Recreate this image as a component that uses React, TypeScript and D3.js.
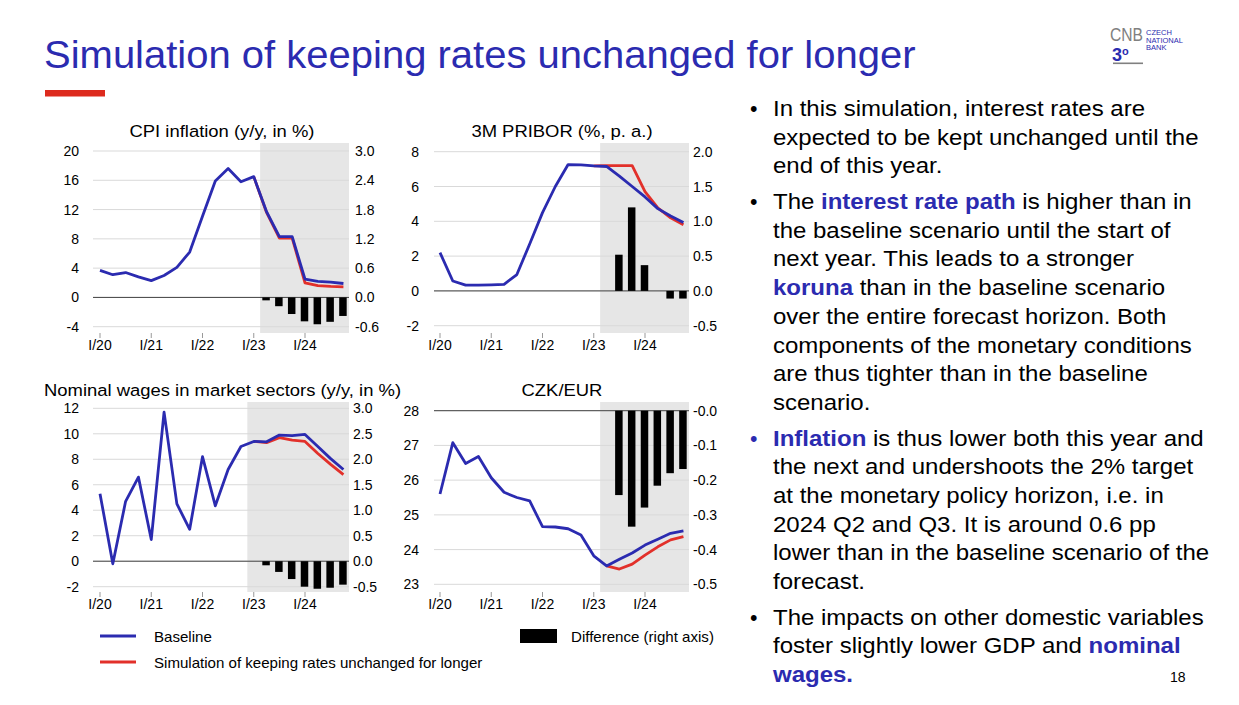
import React from 'react';
import * as d3 from 'd3';

// ---------- DATA ----------
const yearTickIdx = [0, 4, 8, 12, 16];
const yearLabels = ['I/20', 'I/21', 'I/22', 'I/23', 'I/24'];

const cpiBaseline = [3.7, 3.1, 3.4, 2.8, 2.3, 3.0, 4.1, 6.2, 11.1, 15.9, 17.6, 15.8, 16.5, 11.7, 8.3, 8.3, 2.5, 2.2, 2.1, 1.9];
const cpiSimulation = [null, null, null, null, null, null, null, null, null, null, null, null, 16.5, 11.6, 8.1, 8.1, 2.0, 1.6, 1.5, 1.45];
const cpiDifference = [null, null, null, null, null, null, null, null, null, null, null, null, null, -0.06, -0.18, -0.34, -0.49, -0.55, -0.5, -0.38];
const cpiLeftTicks = [20, 16, 12, 8, 4, 0, -4];
const cpiRightTicks = ['3.0', '2.4', '1.8', '1.2', '0.6', '0.0', '-0.6'];

const priborBaseline = [2.2, 0.57, 0.33, 0.33, 0.35, 0.38, 0.94, 2.7, 4.5, 6.0, 7.26, 7.24, 7.18, 7.15, 6.6, 6.0, 5.4, 4.73, 4.3, 3.93];
const priborSimulation = [null, null, null, null, null, null, null, null, null, null, null, null, 7.18, 7.2, 7.2, 7.2, 5.7, 4.77, 4.2, 3.8];
const priborDifference = [null, null, null, null, null, null, null, null, null, null, null, null, null, null, 0.52, 1.2, 0.37, 0, -0.11, -0.11];
const priborLeftTicks = [8, 6, 4, 2, 0, -2];
const priborRightTicks = ['2.0', '1.5', '1.0', '0.5', '0.0', '-0.5'];

const wagesBaseline = [5.3, -0.2, 4.7, 6.6, 1.7, 11.7, 4.5, 2.5, 8.2, 4.35, 7.2, 9.0, 9.4, 9.37, 9.9, 9.85, 9.95, 9.0, 8.05, 7.2];
const wagesSimulation = [null, null, null, null, null, null, null, null, null, null, null, null, 9.4, 9.3, 9.7, 9.5, 9.4, 8.45, 7.6, 6.8];
const wagesDifference = [null, null, null, null, null, null, null, null, null, null, null, null, null, -0.08, -0.21, -0.35, -0.5, -0.54, -0.52, -0.46];
const wagesLeftTicks = [12, 10, 8, 6, 4, 2, 0, -2];
const wagesRightTicks = ['3.0', '2.5', '2.0', '1.5', '1.0', '0.5', '0.0', '-0.5'];

const czkBaseline = [25.6, 27.08, 26.48, 26.68, 26.07, 25.65, 25.5, 25.4, 24.66, 24.65, 24.6, 24.42, 23.82, 23.53, 23.72, 23.9, 24.13, 24.3, 24.47, 24.54];
const czkSimulation = [null, null, null, null, null, null, null, null, null, null, null, null, null, 23.53, 23.44, 23.58, 23.84, 24.08, 24.28, 24.37];
const czkDifference = [null, null, null, null, null, null, null, null, null, null, null, null, null, null, -0.243, -0.334, -0.279, -0.216, -0.18, -0.168];
const czkLeftTicks = [28, 27, 26, 25, 24, 23];
const czkRightTicks = ['-0.0', '-0.1', '-0.2', '-0.3', '-0.4', '-0.5'];

const legendLabels = ['Baseline', 'Simulation of keeping rates unchanged for longer', 'Difference (right axis)'];

// ---------- STYLE ----------
const BLUE = '#2b2bb0';
const RED = '#e2302a';
const TITLE_BLUE = '#2b2bb0';
const FONT = "'Liberation Sans', Arial, sans-serif";

type PanelCfg = {
  title: string;
  titleX: number;
  titleY: number;
  titleAnchor: 'start' | 'middle';
  gridX0: number;
  gridX1: number;
  xFirst: number;
  xLast: number;
  yTop: number;
  yBottom: number;
  shadeTop: number;
  shadeBottom: number;
  shadeStart: number;
  leftDomain: [number, number];
  rightDomain: [number, number];
  leftTicks: number[];
  rightTicks: string[];
  leftLabelX: number;
  rightLabelX: number;
  baseline: number[];
  simulation: (number | null)[];
  difference: (number | null)[];
};

function Panel({ c }: { c: PanelCfg }) {
  const x = d3.scaleLinear().domain([0, 16]).range([c.xFirst, c.xLast]);
  const yL = d3.scaleLinear().domain(c.leftDomain).range([c.yBottom, c.yTop]);
  const yR = d3.scaleLinear().domain(c.rightDomain).range([c.yBottom, c.yTop]);
  const line = d3
    .line<number | null>()
    .defined((d) => d != null)
    .x((_, i) => x(i))
    .y((d) => yL(d as number));
  const barW = 7.5;
  const zeroY = yR(0);
  return (
    <g>
      <text
        transform={`translate(${c.titleX},${c.titleY}) scale(1.085,1)`}
        textAnchor={c.titleAnchor}
        fontSize={17}
        fill="#000"
      >
        {c.title}
      </text>
      <rect x={x(c.shadeStart)} y={c.shadeTop} width={c.gridX1 - x(c.shadeStart)} height={c.shadeBottom - c.shadeTop} fill="#e6e6e6" />
      {c.leftTicks.map((t) => (
        <line key={'g' + t} x1={c.gridX0} x2={c.gridX1} y1={yL(t)} y2={yL(t)} stroke="#d9d9d9" strokeWidth={1} />
      ))}
      {c.leftTicks.map((t) => (
        <text key={'l' + t} x={c.leftLabelX} y={yL(t)} dy="0.36em" textAnchor="end" fontSize={14}>
          {t}
        </text>
      ))}
      {c.rightTicks.map((t, i) => {
        const v = c.rightDomain[1] - (i * (c.rightDomain[1] - c.rightDomain[0])) / (c.rightTicks.length - 1);
        return (
          <text key={'r' + t} x={c.rightLabelX} y={yR(v)} dy="0.36em" textAnchor="start" fontSize={14}>
            {t}
          </text>
        );
      })}
      <line x1={c.gridX0} x2={c.gridX1} y1={zeroY} y2={zeroY} stroke="#444" strokeWidth={1} />
      {c.difference.map((d, i) =>
        d == null || d === 0 ? null : (
          <rect
            key={'b' + i}
            x={x(i) - barW / 2 - 0.5}
            y={Math.min(yR(d), zeroY)}
            width={barW}
            height={Math.abs(yR(d) - zeroY)}
            fill="#000"
          />
        )
      )}
      <path d={line(c.simulation) || ''} fill="none" stroke={RED} strokeWidth={2.8} strokeLinejoin="round" />
      <path d={line(c.baseline) || ''} fill="none" stroke={BLUE} strokeWidth={2.8} strokeLinejoin="round" />
      {yearTickIdx.map((q, i) => (
        <g key={'x' + q}>
          <line x1={x(q)} x2={x(q)} y1={c.shadeBottom} y2={c.shadeBottom + 5} stroke="#999" />
          <text x={x(q)} y={c.shadeBottom + 17} textAnchor="middle" fontSize={14}>
            {yearLabels[i]}
          </text>
        </g>
      ))}
    </g>
  );
}

const panels: PanelCfg[] = [
  {
    title: 'CPI inflation (y/y, in %)', titleX: 222, titleY: 137, titleAnchor: 'middle',
    gridX0: 93, gridX1: 349, xFirst: 100, xLast: 305, yTop: 151, yBottom: 326.7,
    shadeTop: 143, shadeBottom: 333, shadeStart: 12.5,
    leftDomain: [-4, 20], rightDomain: [-0.6, 3.0], leftTicks: cpiLeftTicks, rightTicks: cpiRightTicks,
    leftLabelX: 79, rightLabelX: 355,
    baseline: cpiBaseline, simulation: cpiSimulation, difference: cpiDifference,
  },
  {
    title: '3M PRIBOR (%, p. a.)', titleX: 562, titleY: 137, titleAnchor: 'middle',
    gridX0: 434, gridX1: 689, xFirst: 440, xLast: 645, yTop: 151.7, yBottom: 325.7,
    shadeTop: 143, shadeBottom: 333, shadeStart: 12.5,
    leftDomain: [-2, 8], rightDomain: [-0.5, 2.0], leftTicks: priborLeftTicks, rightTicks: priborRightTicks,
    leftLabelX: 419, rightLabelX: 693,
    baseline: priborBaseline, simulation: priborSimulation, difference: priborDifference,
  },
  {
    title: 'Nominal wages in market sectors (y/y, in %)', titleX: 44, titleY: 396, titleAnchor: 'start',
    gridX0: 93, gridX1: 349, xFirst: 100, xLast: 305, yTop: 408.3, yBottom: 586.7,
    shadeTop: 402, shadeBottom: 592, shadeStart: 11.5,
    leftDomain: [-2, 12], rightDomain: [-0.5, 3.0], leftTicks: wagesLeftTicks, rightTicks: wagesRightTicks,
    leftLabelX: 79, rightLabelX: 353,
    baseline: wagesBaseline, simulation: wagesSimulation, difference: wagesDifference,
  },
  {
    title: 'CZK/EUR', titleX: 562, titleY: 396, titleAnchor: 'middle',
    gridX0: 434, gridX1: 689, xFirst: 440, xLast: 645, yTop: 410.7, yBottom: 584.3,
    shadeTop: 402, shadeBottom: 592, shadeStart: 12.5,
    leftDomain: [23, 28], rightDomain: [-0.5, 0], leftTicks: czkLeftTicks, rightTicks: czkRightTicks,
    leftLabelX: 419, rightLabelX: 693,
    baseline: czkBaseline, simulation: czkSimulation, difference: czkDifference,
  },
];

type Seg = { t: string; b?: boolean };
const paragraphs: { bulletBlue?: boolean; lines: Seg[][] }[] = [
  {
    lines: [
      [{ t: 'In this simulation, interest rates are' }],
      [{ t: 'expected to be kept unchanged until the' }],
      [{ t: 'end of this year.' }],
    ],
  },
  {
    lines: [
      [{ t: 'The ' }, { t: 'interest rate path', b: true }, { t: ' is higher than in' }],
      [{ t: 'the baseline scenario until the start of' }],
      [{ t: 'next year. This leads to a stronger' }],
      [{ t: 'koruna', b: true }, { t: ' than in the baseline scenario' }],
      [{ t: 'over the entire forecast horizon. Both' }],
      [{ t: 'components of the monetary conditions' }],
      [{ t: 'are thus tighter than in the baseline' }],
      [{ t: 'scenario.' }],
    ],
  },
  {
    bulletBlue: true,
    lines: [
      [{ t: 'Inflation', b: true }, { t: ' is thus lower both this year and' }],
      [{ t: 'the next and undershoots the 2% target' }],
      [{ t: 'at the monetary policy horizon, i.e. in' }],
      [{ t: '2024 Q2 and Q3. It is around 0.6 pp' }],
      [{ t: 'lower than in the baseline scenario of the' }],
      [{ t: 'forecast.' }],
    ],
  },
  {
    lines: [
      [{ t: 'The impacts on other domestic variables' }],
      [{ t: 'foster slightly lower GDP and ' }, { t: 'nominal', b: true }],
      [{ t: 'wages.', b: true }],
    ],
  },
];

function BulletText() {
  const out: React.ReactNode[] = [];
  let lineIdx = 0;
  paragraphs.forEach((p, pi) => {
    p.lines.forEach((ln, li) => {
      const y = 116 + lineIdx * 28.7 + pi * 6.9;
      if (li === 0) {
        out.push(
          <text key={'bu' + pi} x={750} y={y} fontSize={21.3} fill={p.bulletBlue ? TITLE_BLUE : '#000'}>
            •
          </text>
        );
      }
      out.push(
        <text key={'t' + lineIdx} transform={`translate(773,${y}) scale(1.067,1)`} fontSize={22.5} fill="#000">
          {ln.map((s, si) => (
            <tspan key={si} fontWeight={s.b ? 'bold' : 'normal'} fill={s.b ? TITLE_BLUE : '#000'}>
              {s.t}
            </tspan>
          ))}
        </text>
      );
      lineIdx++;
    });
  });
  return <g>{out}</g>;
}

export default function App() {
  return (
    <svg
      width={1239}
      height={705}
      style={{ position: 'absolute', left: 0, top: 0, background: '#fff' }}
      fontFamily={FONT}
    >
      <rect x={0} y={0} width={1239} height={705} fill="#fff" />
      <text transform="translate(44,68) scale(1.053,1)" fontSize={38} fill={TITLE_BLUE}>
        Simulation of keeping rates unchanged for longer
      </text>
      <rect x={45} y={90} width={60} height={6.5} fill="#dd2a1e" />

      {/* logo */}
      <text x={1110} y={41} fontSize={18} fill="#808080" textLength={33} lengthAdjust="spacingAndGlyphs">
        CNB
      </text>
      <text x={1112} y={61} fontSize={18} fontWeight="bold" fill={TITLE_BLUE}>
        3<tspan dy={-6} fontSize={11}>o</tspan>
      </text>
      <rect x={1113} y={62.5} width={30} height={1.6} fill="#808080" />
      <text x={1146} y={35} fontSize={7.5} fill={TITLE_BLUE}>CZECH</text>
      <text x={1146} y={42.5} fontSize={7.5} fill={TITLE_BLUE}>NATIONAL</text>
      <text x={1146} y={50} fontSize={7.5} fill={TITLE_BLUE}>BANK</text>

      {panels.map((p, i) => (
        <Panel key={i} c={p} />
      ))}

      {/* legend */}
      <line x1={100} x2={136} y1={636} y2={636} stroke={BLUE} strokeWidth={2.8} />
      <text transform="translate(154,642) scale(1.04,1)" fontSize={14.5}>{legendLabels[0]}</text>
      <line x1={100} x2={136} y1={662} y2={662} stroke={RED} strokeWidth={2.8} />
      <text transform="translate(154,668) scale(1.04,1)" fontSize={14.5}>{legendLabels[1]}</text>
      <rect x={520} y={629} width={37} height={14} fill="#000" />
      <text transform="translate(571,642) scale(1.04,1)" fontSize={14.5}>{legendLabels[2]}</text>

      <BulletText />
      <text x={1170} y={682} fontSize={14}>18</text>
    </svg>
  );
}
